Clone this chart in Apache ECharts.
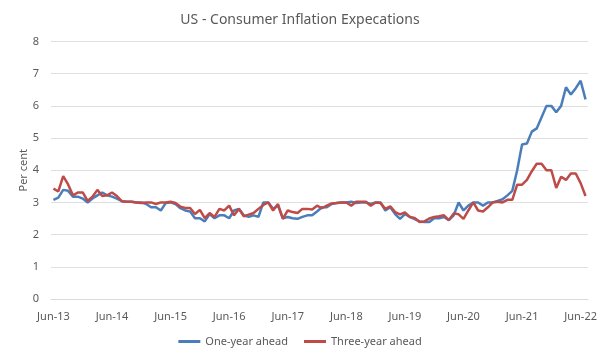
<!DOCTYPE html>
<html>
<head>
<meta charset="utf-8">
<script src="https://cdn.jsdelivr.net/npm/echarts@6/dist/echarts.min.js"></script>
<style>html,body{margin:0;padding:0;background:#fff}#c{width:600px;height:360px}</style>
</head>
<body>
<div id="c"></div>
<script>
const monthNames = ['Jan','Feb','Mar','Apr','May','Jun','Jul','Aug','Sep','Oct','Nov','Dec'];
// Monthly categories Jun-13 .. Jul-22
const categories = [];
for (let y = 2013, m = 5; y < 2022 || (y === 2022 && m <= 6); ) {
  categories.push(monthNames[m] + '-' + String(y).slice(2));
  m++; if (m > 11) { m = 0; y++; }
}
const oneYearAhead = [
  3.08,3.15,3.39,3.36,3.18,3.18,3.12,3.00,3.12,3.22,3.31,3.22,
  3.18,3.12,3.04,3.02,3.02,3.00,3.00,2.95,2.85,2.85,2.75,2.98,
  3.00,2.95,2.82,2.75,2.72,2.51,2.51,2.41,2.64,2.51,2.60,2.60,
  2.51,2.75,2.80,2.60,2.55,2.60,2.55,3.00,3.00,2.80,2.90,2.51,
  2.55,2.51,2.49,2.55,2.60,2.60,2.72,2.85,2.85,2.95,2.98,3.00,
  3.00,3.02,2.98,3.00,3.00,2.95,3.00,3.00,2.75,2.85,2.64,2.49,
  2.64,2.55,2.48,2.41,2.39,2.39,2.51,2.51,2.55,2.45,2.60,3.00,
  2.75,2.90,3.00,3.00,2.90,3.00,3.00,3.05,3.10,3.22,3.36,4.00,
  4.80,4.83,5.20,5.30,5.65,6.00,6.00,5.80,6.00,6.58,6.35,6.55,
  6.78,6.20
];
const threeYearAhead = [
  3.43,3.34,3.82,3.56,3.22,3.31,3.31,3.05,3.18,3.39,3.20,3.22,
  3.31,3.20,3.04,3.02,3.02,3.00,2.98,3.00,3.00,2.95,3.00,3.00,
  3.02,2.98,2.87,2.83,2.83,2.64,2.77,2.51,2.67,2.55,2.80,2.75,
  2.90,2.60,2.80,2.57,2.62,2.67,2.80,2.92,3.00,2.75,2.95,2.49,
  2.75,2.70,2.67,2.80,2.80,2.78,2.90,2.82,2.90,2.97,2.98,3.00,
  3.00,2.90,3.02,3.02,3.02,2.90,3.00,2.98,2.80,2.88,2.70,2.63,
  2.69,2.55,2.52,2.39,2.41,2.50,2.55,2.57,2.60,2.45,2.66,2.63,
  2.49,2.75,3.00,2.75,2.72,2.85,3.00,3.02,3.00,3.08,3.08,3.55,
  3.55,3.70,3.97,4.20,4.20,4.00,4.00,3.45,3.80,3.70,3.90,3.90,
  3.60,3.20
];
const seriesNames = ['One-year ahead','Three-year ahead'];
const titleText = 'US - Consumer Inflation Expecations';
const yAxisName = 'Per cent';

const txt = '#595959';
const font = 'Noto Sans';
const chart = echarts.init(document.getElementById('c'));
chart.setOption({
  animation: false,
  title: { text: titleText, left: 'center', top: 8,
    textStyle: { fontFamily: font, fontSize: 14, fontWeight: 'normal', color: txt } },
  legend: { bottom: 8, left: 'center', icon: 'rect', itemWidth: 22, itemHeight: 3, itemGap: 16,
    textStyle: { fontFamily: font, fontSize: 11, color: txt }, data: seriesNames },
  grid: { left: 51, right: 12, top: 41.5, bottom: 61 },
  xAxis: { type: 'category', data: categories, boundaryGap: true,
    axisLine: { lineStyle: { color: '#D9D9D9' } }, axisTick: { show: false },
    axisLabel: { interval: 11, color: txt, fontFamily: font, fontSize: 11, margin: 12 } },
  yAxis: { type: 'value', min: 0, max: 8, interval: 1,
    name: yAxisName, nameLocation: 'middle', nameGap: 22, nameRotate: 90, nameMoveOverlap: false,
    nameTextStyle: { fontFamily: font, fontSize: 11, color: txt },
    axisLine: { show: false }, axisTick: { show: false },
    axisLabel: { color: txt, fontFamily: font, fontSize: 11, margin: 12 },
    splitLine: { lineStyle: { color: '#E0E0E0' } } },
  series: [
    { name: seriesNames[0], type: 'line', data: oneYearAhead, showSymbol: false,
      lineStyle: { width: 2.5, color: '#4A7EBB' }, itemStyle: { color: '#4A7EBB' } },
    { name: seriesNames[1], type: 'line', data: threeYearAhead, showSymbol: false,
      lineStyle: { width: 2.5, color: '#BE4B48' }, itemStyle: { color: '#BE4B48' } }
  ]
});
</script>
</body>
</html>
